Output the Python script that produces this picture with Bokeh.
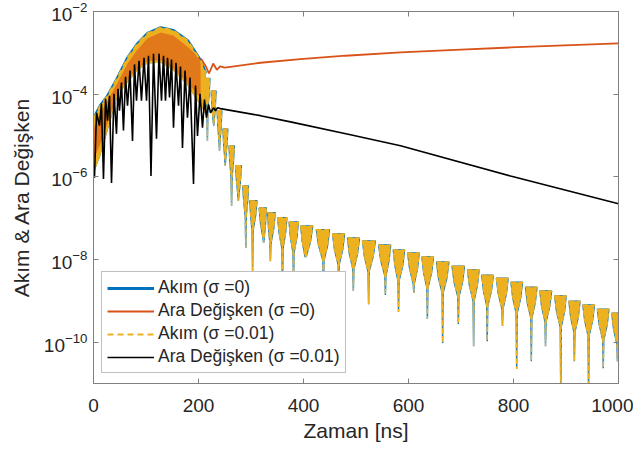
from bokeh.plotting import figure
from bokeh.models import (Range1d, FixedTicker, LogAxis, LinearAxis, Legend, LegendItem,
                          ColumnDataSource, LogTickFormatter)
from bokeh.embed import file_html
from bokeh.resources import INLINE

# ---------------- data (times in ns, amplitudes as log10 values) -------------
x_ticks = [0, 200, 400, 600, 800, 1000]
y_ticks = [1e-10, 1e-8, 1e-6, 1e-4, 1e-2]

# Akım: dense-oscillation band of the first pulse (upper / lower envelope)
akim_env_t = [0, 13, 27, 46, 65, 84, 103, 128, 152, 179, 204, 214]
akim_env_hi = [-4.59, -4.28, -4.04, -3.60, -3.12, -2.78, -2.53, -2.39, -2.46, -2.70, -3.19, -3.50]
akim_env_lo = [-5.93, -5.49, -4.88, -4.04, -3.72, -3.43, -3.26, -3.24, -3.43, -3.79, -4.28, -4.50]

# Akım: decaying lobes (centre time, top, neck, spike bottom)
akim_lobe_t = [217, 229, 240, 251, 263, 276, 290, 303, 324, 337, 360, 381, 404, 438, 467, 495,
               524, 556, 581, 610, 636, 665, 695, 724, 750, 779, 806, 834, 861, 890, 916, 943, 971, 998]
akim_lobe_top = [-3.62, -3.92, -4.40, -4.84, -5.25, -5.73, -6.22, -6.58,
                 -6.75, -6.87, -6.99, -7.09, -7.19, -7.28, -7.38, -7.48, -7.55, -7.65, -7.77, -7.84,
                 -7.94, -8.06, -8.16, -8.25, -8.38, -8.45, -8.55, -8.67, -8.76, -8.88, -9.01, -9.10,
                 -9.20, -9.30]
akim_lobe_neck = [-4.35, -4.65, -5.15, -5.55, -6.00, -6.45, -6.95, -7.30,
                  -7.50, -7.62, -7.74, -7.84, -7.94, -8.03, -8.13, -8.23, -8.30, -8.40, -8.52, -8.59,
                  -8.69, -8.81, -8.91, -9.00, -9.13, -9.20, -9.30, -9.42, -9.51, -9.63, -9.76, -9.85,
                  -9.95, -10.05]
akim_lobe_dip = [-5.13, -4.76, -5.37, -5.73, -6.70, -6.58, -7.72, -8.33,
                 -7.60, -8.04, -8.76, -8.64, -7.92, -8.76, -9.01, -8.76, -9.08, -8.86, -9.27, -8.81,
                 -9.44, -10.02, -9.56, -10.10, -9.98, -9.61, -10.65, -10.46, -10.10, -11.30, -10.46,
                 -11.30, -10.63, -10.46]

# Ara Değişken (sigma = 0): pulse band, then slowly rising tail
ara0_env_t = [0, 13, 27, 46, 65, 84, 103, 128, 152, 179, 204]
ara0_env_hi = [-4.84, -4.45, -4.16, -3.72, -3.26, -2.92, -2.65, -2.51, -2.58, -2.85, -3.14]
ara0_env_lo = [-5.60, -5.20, -4.70, -3.95, -3.65, -3.38, -3.20, -3.18, -3.38, -3.72, -4.10]
ara0_tail_t = [205, 214, 220, 228, 235, 241, 250, 318, 394, 480, 585, 700, 794, 1000]
ara0_tail_v = [-3.14, -3.33, -3.50, -3.26, -3.41, -3.33, -3.36, -3.24, -3.15, -3.07, -2.99,
               -2.92, -2.87, -2.77]

# Ara Değişken (sigma = 0.01): oscillating pulse, then decaying tail
ara1_t = [1.9, 5.7, 11.4, 15.2, 19.0, 22.9, 26.7, 30.5, 34.3, 39.0, 43.8, 46.7, 49.5, 53.3, 57.1,
          61.0, 64.8, 69.5, 74.3, 78.1, 81.9, 86.7, 91.4, 96.2, 101.0, 104.8, 109.5, 114.3, 120.0,
          124.8, 129.5, 133.3, 137.1, 141.0, 144.8, 148.6, 152.4, 157.1, 161.9, 165.7, 169.5,
          174.3, 179.0, 183.8, 190.5, 194.3, 198.1, 202.9, 207.6, 211.4, 215.2, 219.0, 222.9,
          228.6, 232.4, 236.2, 241.9, 318.1, 375.2, 489.5, 584.8, 794.3, 1000]
ara1_v = [-6.02, -4.45, -4.76, -4.23, -6.05, -4.11, -4.64, -4.04, -6.15, -3.99, -4.96, -3.87,
          -4.40, -3.72, -4.88, -3.58, -4.28, -3.43, -5.13, -3.28, -4.16, -3.19, -4.16, -3.12,
          -4.16, -3.07, -5.98, -3.02, -5.08, -3.02, -4.16, -3.07, -4.16, -3.12, -4.08, -3.16,
          -4.81, -3.24, -4.28, -3.33, -5.30, -3.43, -4.57, -3.60, -6.17, -3.79, -5.01, -3.99,
          -4.81, -4.13, -4.57, -4.25, -4.45, -4.33, -4.40, -4.33, -4.35, -4.52, -4.67, -4.98,
          -5.25, -5.98, -6.65]

BLUE, ORANGE, YELLOW, BLACK = "#0072BD", "#D95319", "#EDB120", "#000000"
AX = "#262626"
FONT = "Liberation Sans"


def pw(a):
    return [10 ** v for v in a]


# lobes drawn as bulb-shaped patches built from the read values (top, neck, spike bottom)
def lobe_shapes(t, top, neck, dip, n=0.9):
    xs, ys = [], []
    m = len(t)
    for i in range(m):
        left = (t[i] - t[i - 1]) / 2 if i > 0 else (t[1] - t[0]) / 2
        right = (t[i + 1] - t[i]) / 2 if i < m - 1 else (t[i] - t[i - 1]) / 2
        mid = top[i] + 0.5 * (neck[i] - top[i])
        xs.append([t[i] - 0.8 * left, t[i] + 0.8 * right, t[i] + 0.55 * right, t[i] + n, t[i],
                   t[i] - n, t[i] - 0.55 * left])
        ys.append([10 ** top[i], 10 ** top[i], 10 ** mid, 10 ** neck[i], 10 ** dip[i],
                   10 ** neck[i], 10 ** mid])
    return xs, ys


p = figure(width=633, height=446, x_range=Range1d(0, 1000), y_range=Range1d(1e-11, 1e-2),
           y_axis_type="log", output_backend="svg", toolbar_location=None,
           min_border_left=93, min_border_right=15, min_border_top=11, min_border_bottom=63)
p.background_fill_color = "white"
p.border_fill_color = "white"
p.outline_line_color = "#808080"
p.grid.visible = False

env_src = ColumnDataSource(dict(t=akim_env_t, hi=pw(akim_env_hi), lo=pw(akim_env_lo)))
ara0_src = ColumnDataSource(dict(t=ara0_env_t, hi=pw(ara0_env_hi), lo=pw(ara0_env_lo)))
lx, ly = lobe_shapes(akim_lobe_t, akim_lobe_top, akim_lobe_neck, akim_lobe_dip)
lobe_src = ColumnDataSource(dict(xs=lx, ys=ly))

# Akım (sigma=0), blue
p.varea(x="t", y1="lo", y2="hi", source=env_src, fill_color=BLUE)
p.patches("xs", "ys", source=lobe_src, fill_color=BLUE, line_color=BLUE, line_width=1.4)
r_blue = p.line("t", "hi", source=env_src, line_color=BLUE, line_width=3)

# Akım (sigma=0.01), yellow band (inset so blue edges remain)
p.varea(x="t", y1="lo", y2="hi", source=env_src, fill_color=YELLOW)
p.patches("xs", "ys", source=lobe_src, fill_color=YELLOW, line_color=YELLOW, line_width=1.3,
          line_dash="5 3")

# Ara Değişken (sigma=0), orange, seen through the yellow oscillation
p.varea(x="t", y1="lo", y2="hi", source=ara0_src, fill_color=ORANGE, fill_alpha=0.6)
r_orange = p.line(ara0_tail_t, pw(ara0_tail_v), line_color=ORANGE, line_width=1.8)

# Akım (sigma=0.01) rim, yellow dashed
r_yellow = p.line("t", "hi", source=env_src, line_color=YELLOW, line_width=2, line_dash="6 4")

# Ara Değişken (sigma=0.01), black
r_black = p.line(ara1_t, pw(ara1_v), line_color=BLACK, line_width=1.6)

# axes
p.xaxis.ticker = FixedTicker(ticks=x_ticks, minor_ticks=[])
p.yaxis.ticker = FixedTicker(ticks=y_ticks, minor_ticks=[])
p.yaxis.formatter = LogTickFormatter()
for ax in (p.xaxis[0], p.yaxis[0]):
    ax.major_tick_in = 5
    ax.major_tick_out = 0
    ax.minor_tick_in = 0
    ax.minor_tick_out = 0
    ax.axis_line_color = "#808080"
    ax.major_tick_line_color = "#808080"
    ax.major_label_text_font = FONT
    ax.major_label_text_font_size = "19px"
    ax.major_label_text_color = AX
    ax.axis_label_text_font = FONT
    ax.axis_label_text_font_size = "21px"
    ax.axis_label_text_color = AX
    ax.axis_label_text_font_style = "normal"
p.xaxis.axis_label = "Zaman [ns]"
p.yaxis.axis_label = "Akım & Ara Değişken"
p.xaxis.major_label_standoff = 15
p.xaxis.axis_label_standoff = 4
p.yaxis.major_label_standoff = 6
p.yaxis.axis_label_standoff = 8

top_ax = LinearAxis(ticker=FixedTicker(ticks=x_ticks, minor_ticks=[]),
                    major_label_overrides={t: "" for t in x_ticks},
                    major_tick_in=5, major_tick_out=0, minor_tick_in=0, minor_tick_out=0,
                    major_label_standoff=0, axis_line_color="#808080", major_tick_line_color="#808080")
right_ax = LogAxis(ticker=FixedTicker(ticks=y_ticks, minor_ticks=[]),
                   major_label_overrides={t: "" for t in y_ticks},
                   major_tick_in=5, major_tick_out=0, minor_tick_in=0, minor_tick_out=0,
                   major_label_standoff=0, axis_line_color="#808080", major_tick_line_color="#808080")
p.add_layout(top_ax, "above")
p.add_layout(right_ax, "right")

legend = Legend(items=[
    LegendItem(label="Akım (σ =0)", renderers=[r_blue]),
    LegendItem(label="Ara Değişken (σ =0)", renderers=[r_orange]),
    LegendItem(label="Akım (σ =0.01)", renderers=[r_yellow]),
    LegendItem(label="Ara Değişken (σ =0.01)", renderers=[r_black]),
], location=(8, 10))
legend.label_text_font = FONT
legend.label_text_font_size = "17.5px"
legend.label_text_color = AX
legend.glyph_width = 47
legend.glyph_height = 18
legend.label_height = 18
legend.label_standoff = 4
legend.spacing = 2
legend.padding = 5
legend.margin = 0
legend.border_line_color = "#808080"
legend.border_line_width = 1
legend.background_fill_alpha = 1.0
p.add_layout(legend)

open("out.html", "w").write(file_html(p, INLINE))
